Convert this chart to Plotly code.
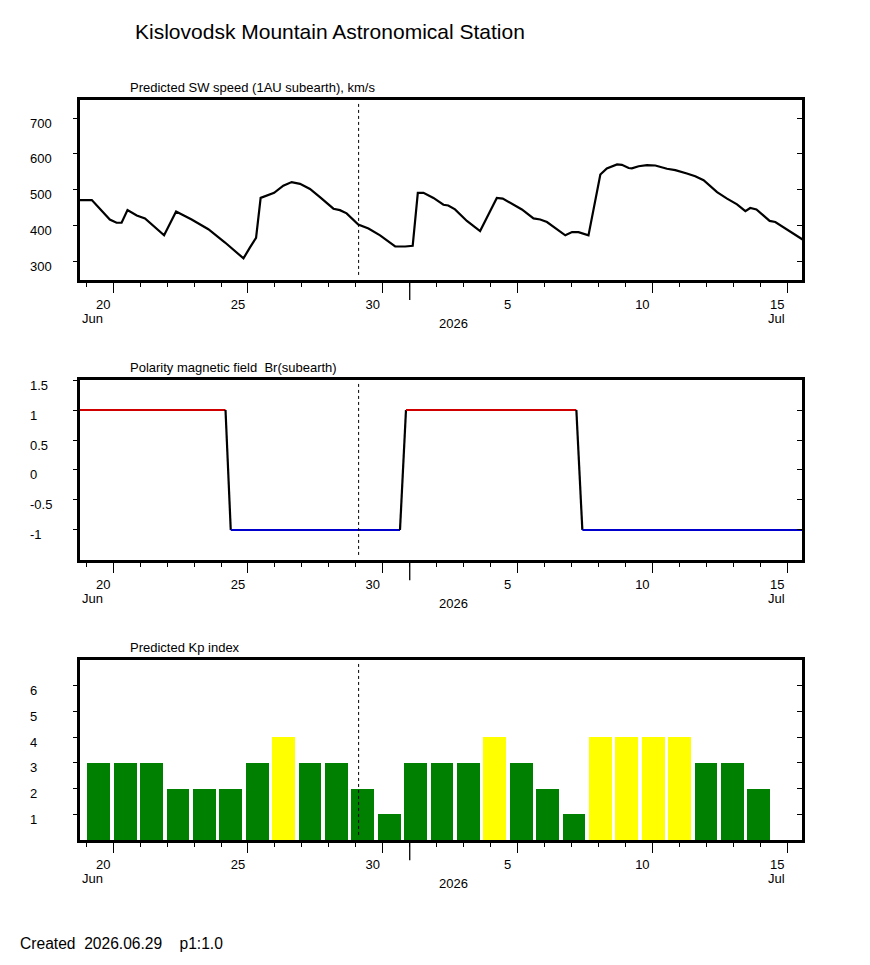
import plotly.graph_objects as go

FONT = "Liberation Sans, Arial, sans-serif"

title_text = "Kislovodsk Mountain Astronomical Station"
panel_titles = ["Predicted SW speed (1AU subearth), km/s",
                "Polarity magnetic field\u00a0 Br(subearth)",
                "Predicted Kp index"]
footer_text = "Created\u00a0 2026.06.29\u00a0\u00a0\u00a0 p1:1.0"

# ---------------- data ----------------
sw_dates = ["2026-06-18 18:00", "2026-06-19 05:00", "2026-06-19 21:00", "2026-06-20 03:00",
            "2026-06-20 07:30", "2026-06-20 12:45", "2026-06-20 21:00", "2026-06-21 04:20",
            "2026-06-21 21:20", "2026-06-22 02:24", "2026-06-22 08:00", "2026-06-22 21:50",
            "2026-06-23 12:43", "2026-06-24 03:36", "2026-06-24 20:00", "2026-06-25 01:40",
            "2026-06-25 07:12", "2026-06-25 11:17", "2026-06-25 16:34", "2026-06-25 23:17",
            "2026-06-26 07:26", "2026-06-26 14:53", "2026-06-26 22:19", "2026-06-27 07:12",
            "2026-06-27 16:05", "2026-06-28 04:05", "2026-06-28 09:50", "2026-06-28 15:50",
            "2026-06-29 02:10", "2026-06-29 11:17", "2026-06-29 21:36", "2026-06-30 11:02",
            "2026-06-30 19:55", "2026-07-01 02:38", "2026-07-01 07:12", "2026-07-01 12:14",
            "2026-07-01 21:07", "2026-07-02 06:00", "2026-07-02 10:19", "2026-07-02 16:19",
            "2026-07-03 02:53", "2026-07-03 14:38", "2026-07-03 22:05", "2026-07-04 05:31",
            "2026-07-04 10:48", "2026-07-04 20:24", "2026-07-05 03:50", "2026-07-05 14:10",
            "2026-07-05 20:10", "2026-07-06 02:10", "2026-07-06 11:02", "2026-07-06 18:29",
            "2026-07-07 00:29", "2026-07-07 06:14", "2026-07-07 15:07", "2026-07-08 01:41",
            "2026-07-08 07:26", "2026-07-08 16:34", "2026-07-08 20:53", "2026-07-09 02:53",
            "2026-07-09 05:46", "2026-07-09 11:46", "2026-07-09 19:12", "2026-07-10 02:38",
            "2026-07-10 13:00", "2026-07-10 20:24", "2026-07-11 06:43", "2026-07-11 14:10",
            "2026-07-11 21:36", "2026-07-12 09:36", "2026-07-12 18:29", "2026-07-13 03:22",
            "2026-07-13 10:48", "2026-07-13 15:07", "2026-07-13 20:38", "2026-07-14 08:24",
            "2026-07-14 13:26", "2026-07-15 10:19", "2026-07-15 14:00"]
sw_speed = [472, 472, 418, 409,
            409, 444, 429, 421,
            374, 405, 440, 418,
            391, 354, 310, 340,
            367, 478, 485, 492,
            512, 522, 517, 503,
            480, 448, 444, 435,
            404, 393, 374, 343,
            343, 345, 492, 492,
            478, 459, 457, 446,
            414, 386, 432, 478,
            476, 460, 446, 421,
            418, 411, 391, 374,
            383, 383, 374, 543,
            560, 571, 570, 561,
            560, 566, 569, 568,
            559, 555, 546, 538,
            527, 494, 476, 460,
            441, 450, 446, 414,
            411, 368, 362]

pol_dates = ["2026-06-18 12:00", "2026-06-24 04:00", "2026-06-24 08:40", "2026-06-30 15:20",
             "2026-06-30 20:40", "2026-07-07 04:20", "2026-07-07 09:40", "2026-07-16 00:00"]
pol_values = [1, 1, -1, -1, 1, 1, -1, -1]

kp_dates = ["2026-06-19", "2026-06-20", "2026-06-21", "2026-06-22", "2026-06-23", "2026-06-24",
            "2026-06-25", "2026-06-26", "2026-06-27", "2026-06-28", "2026-06-29", "2026-06-30",
            "2026-07-01", "2026-07-02", "2026-07-03", "2026-07-04", "2026-07-05", "2026-07-06",
            "2026-07-07", "2026-07-08", "2026-07-09", "2026-07-10", "2026-07-11", "2026-07-12",
            "2026-07-13", "2026-07-14"]
kp_values = [3, 3, 3, 2, 2, 2, 3, 4, 3, 3, 2, 1, 3, 3, 3, 4, 3, 2, 1, 4, 4, 4, 4, 3, 3, 2]

x_tick_dates = ["2026-06-20", "2026-06-25", "2026-06-30", "2026-07-05", "2026-07-10", "2026-07-15"]
x_tick_labels = ["20", "25", "30", "5", "10", "15"]
month_start = "2026-07-01"
now_time = "2026-06-29 02:30"
x_range = ["2026-06-18 18:28", "2026-07-15 13:12"]
kp_axis_range = ["2026-06-18 19:00", "2026-07-16 03:20"]

sw_range = [250, 750]
sw_ticks = [300, 400, 500, 600, 700]
sw_tick_labels = ["300", "400", "500", "600", "700"]
pol_range = [-1.5, 1.5]
pol_ticks = [-1, -0.5, 0, 0.5, 1, 1.5]
pol_tick_labels = ["-1", "-0.5", "0", "0.5", "1", "1.5"]
kp_range = [0, 7]
kp_ticks = [1, 2, 3, 4, 5, 6]
kp_tick_labels = ["1", "2", "3", "4", "5", "6"]

# ---------------- figure ----------------
W, H = 862, 957          # page body adds an 8px offset
ML, MT, PW, PH = 72, 92, 722, 740

fig = go.Figure()

fig.add_trace(go.Scatter(x=sw_dates, y=sw_speed, mode="lines",
                         line=dict(color="black", width=2.2), xaxis="x", yaxis="y",
                         showlegend=False, hoverinfo="skip"))

for i in range(len(pol_values) - 1):
    a, b = pol_values[i], pol_values[i + 1]
    if a == b == 1:
        col = "#d00000"
    elif a == b == -1:
        col = "#0000cc"
    else:
        col = "black"
    fig.add_trace(go.Scatter(x=pol_dates[i:i + 2], y=pol_values[i:i + 2], mode="lines",
                             line=dict(color=col, width=2.2), xaxis="x2", yaxis="y2",
                             showlegend=False, hoverinfo="skip"))

kp_colors = ["#ffff00" if v >= 4 else "#008000" for v in kp_values]
fig.add_trace(go.Bar(x=kp_dates, y=kp_values, marker=dict(color=kp_colors, line=dict(width=0)),
                     xperiod=86400000, xperiodalignment="middle", width=0.864 * 86400000,
                     xaxis="x4", yaxis="y3", showlegend=False, hoverinfo="skip"))

# empty traces so the left-side tick axes get drawn
for xa, ya in [("x", "y4"), ("x2", "y5"), ("x3", "y6")]:
    fig.add_trace(go.Scatter(x=[None], y=[None], mode="lines", xaxis=xa, yaxis=ya,
                             showlegend=False, hoverinfo="skip"))

tickfont = dict(family=FONT, size=13, color="black")

def xaxis_cfg(anchor):
    return dict(type="date", range=x_range, anchor=anchor, showgrid=False, zeroline=False,
                showline=True, linewidth=3, linecolor="black", mirror=True,
                ticks="outside", ticklen=10, tickwidth=1.3, tickcolor="black",
                tickmode="array", tickvals=x_tick_dates, ticktext=x_tick_labels,
                ticklabelshift=-10, tickfont=tickfont,
                minor=dict(ticks="outside", ticklen=4, tickwidth=1, tickcolor="black",
                           tickmode="linear", tick0="2026-06-20", dtick=86400000, showgrid=False),
                fixedrange=True)

def yaxis_cfg(anchor, rng, vals, dom):
    return dict(range=rng, domain=dom, anchor=anchor, showgrid=False, zeroline=False,
                showline=True, linewidth=3, linecolor="black", mirror=True, side="right",
                ticks="inside", ticklen=5, tickwidth=1, tickcolor="black",
                tickmode="array", tickvals=vals, showticklabels=False, fixedrange=True)

def yaxis_left_ticks(anchor, base, rng, vals):
    return dict(range=rng, overlaying=base, anchor=anchor, side="left", showgrid=False,
                zeroline=False, showline=False, ticks="outside", ticklen=6, tickwidth=1,
                tickcolor="black", tickmode="array", tickvals=vals, showticklabels=False,
                fixedrange=True)

doms = [[0.7568, 1.0], [0.3784, 0.6216], [0.0, 0.2432]]

fig.update_layout(
    width=W, height=H,
    paper_bgcolor="white", plot_bgcolor="white",
    margin=dict(l=ML, r=W - ML - PW, t=MT, b=H - MT - PH),
    font=dict(family=FONT, color="black"),
    bargap=0,
    title=dict(text=title_text, x=127 / W, xanchor="left", y=1 - 24 / H, yanchor="middle",
               font=dict(family=FONT, size=21, color="black")),
    xaxis=xaxis_cfg("y"),
    xaxis2=xaxis_cfg("y2"),
    xaxis3=xaxis_cfg("y3"),
    xaxis4=dict(type="date", range=kp_axis_range, overlaying="x3", anchor="y3", visible=False,
                fixedrange=True),
    yaxis=yaxis_cfg("x", sw_range, sw_ticks, doms[0]),
    yaxis2=yaxis_cfg("x2", pol_range, pol_ticks, doms[1]),
    yaxis3=yaxis_cfg("x3", kp_range, kp_ticks, doms[2]),
    yaxis4=yaxis_left_ticks("x", "y", sw_range, sw_ticks),
    yaxis5=yaxis_left_ticks("x2", "y2", pol_range, pol_ticks),
    yaxis6=yaxis_left_ticks("x3", "y3", kp_range, kp_ticks),
)

annotations = []
shapes = []
panel_axes = [("x", "y", sw_ticks, sw_tick_labels),
              ("x2", "y2", pol_ticks, pol_tick_labels),
              ("x3", "y3", kp_ticks, kp_tick_labels)]
for k, (xa, ya, vals, labs) in enumerate(panel_axes):
    # y tick labels (left aligned, slightly below the tick)
    for v, t in zip(vals, labs):
        annotations.append(dict(text=t, xref="paper", x=-52 / PW, xanchor="left",
                                yref=ya, y=v, yanchor="middle", yshift=-5, showarrow=False,
                                font=dict(family=FONT, size=13, color="black")))
    # panel title
    annotations.append(dict(text=panel_titles[k], xref="paper", x=48 / PW, xanchor="left",
                            yref=ya + " domain", y=1.0, yanchor="bottom", yshift=3,
                            showarrow=False, font=dict(family=FONT, size=13, color="black")))
    # month / year labels
    annotations.append(dict(text="Jun", xref="paper", x=0, xanchor="left",
                            yref=ya + " domain", y=-0.212, yanchor="middle", showarrow=False,
                            font=dict(family=FONT, size=13, color="black")))
    annotations.append(dict(text="Jul", xref=xa, x="2026-07-15 00:00", xanchor="right",
                            yref=ya + " domain", y=-0.212, yanchor="middle", showarrow=False,
                            font=dict(family=FONT, size=13, color="black")))
    annotations.append(dict(text="2026", xref="paper", x=0.5175, xanchor="center",
                            yref=ya + " domain", y=-0.24, yanchor="middle", showarrow=False,
                            font=dict(family=FONT, size=13, color="black")))
    # "now" dashed line
    shapes.append(dict(type="line", xref=xa, yref=ya + " domain", x0=now_time, x1=now_time,
                       y0=0.028, y1=0.987, line=dict(color="black", width=1, dash="3px,3px")))
    # long tick at month boundary
    shapes.append(dict(type="line", xref=xa, yref=ya + " domain", x0=month_start, x1=month_start,
                       y0=0, y1=-0.112, line=dict(color="black", width=1.3)))

annotations.append(dict(text=footer_text, xref="paper", x=-62 / PW, xanchor="left",
                        yref="paper", y=-104 / PH, yanchor="middle", showarrow=False,
                        font=dict(family=FONT, size=15.6, color="black")))

fig.update_layout(annotations=annotations, shapes=shapes)

fig.write_html("out.html")
